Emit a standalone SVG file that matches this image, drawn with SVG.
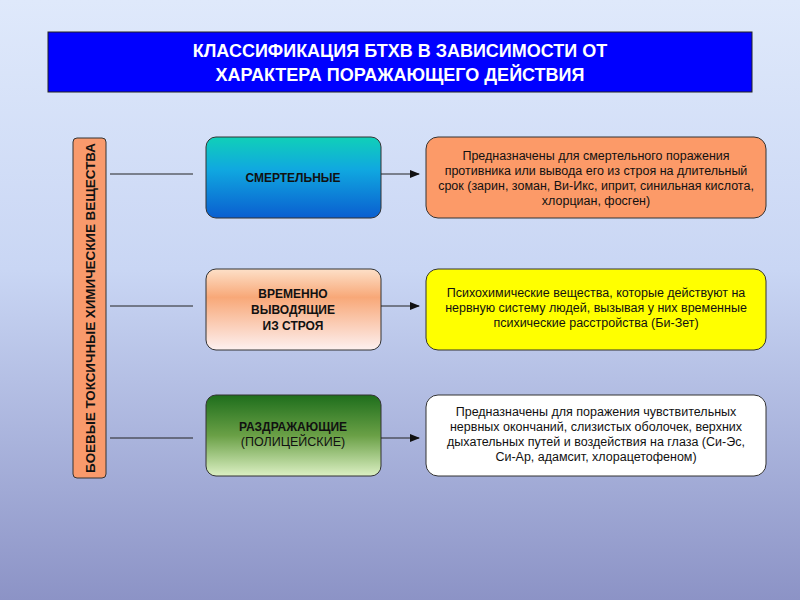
<svg xmlns="http://www.w3.org/2000/svg" width="800" height="600" viewBox="0 0 800 600">
<defs>
<linearGradient id="bg" x1="0" y1="0" x2="0" y2="1"><stop offset="0" stop-color="#dfe9fb"/><stop offset="0.45" stop-color="#c9d6f4"/><stop offset="1" stop-color="#8c93c6"/></linearGradient>
<linearGradient id="g1" x1="0" y1="0" x2="0" y2="1"><stop offset="0" stop-color="#10d0b8"/><stop offset="0.4" stop-color="#10a8e0"/><stop offset="1" stop-color="#0a5ed0"/></linearGradient>
<linearGradient id="g2" x1="0" y1="0" x2="0" y2="1"><stop offset="0" stop-color="#fde0c8"/><stop offset="0.35" stop-color="#f8a878"/><stop offset="1" stop-color="#fdf0f0"/></linearGradient>
<linearGradient id="g3" x1="0" y1="0" x2="0" y2="1"><stop offset="0" stop-color="#1e6e1c"/><stop offset="0.5" stop-color="#6aa046"/><stop offset="1" stop-color="#dcf0c4"/></linearGradient>
<marker id="ar" markerWidth="10" markerHeight="8" refX="9" refY="4" orient="auto" markerUnits="userSpaceOnUse"><path d="M0,0 L10,4 L0,8 Z" fill="#111"/></marker>
<style>
.bx{stroke:#333;stroke-width:1}
text{font-family:"Liberation Sans",Arial,sans-serif;fill:#111}
.b{font-weight:bold;font-size:12px}
.t{font-size:12.5px}
.ln{stroke:#222;stroke-width:1;fill:none}
</style>
</defs>
<rect width="800" height="600" fill="url(#bg)"/>
<g id="title"><rect x="48" y="32" width="704" height="60" fill="#0000ff" stroke="#222"/>
<text x="400" y="57" text-anchor="middle" style="fill:#fff;font-weight:bold;font-size:18px">КЛАССИФИКАЦИЯ БТХВ В ЗАВИСИМОСТИ ОТ</text>
<text x="400" y="81" text-anchor="middle" style="fill:#fff;font-weight:bold;font-size:18px">ХАРАКТЕРА ПОРАЖАЮЩЕГО ДЕЙСТВИЯ</text></g>
<g id="root"><rect class="bx" x="73" y="138" width="33" height="340" rx="4" fill="#f99a6c"/>
<text class="b" transform="translate(95,308) rotate(-90)" text-anchor="middle" textLength="330" lengthAdjust="spacingAndGlyphs" style="font-size:13px">БОЕВЫЕ ТОКСИЧНЫЕ ХИМИЧЕСКИЕ ВЕЩЕСТВА</text></g>
<g id="n1"><rect class="bx" x="206" y="137" width="175" height="81" rx="10" fill="url(#g1)"/><text class="b" x="293" y="182" text-anchor="middle">СМЕРТЕЛЬНЫЕ</text></g>
<g id="n2"><rect class="bx" x="206" y="269" width="175" height="81" rx="10" fill="url(#g2)"/><text class="b" x="293" y="298" text-anchor="middle">ВРЕМЕННО</text><text class="b" x="293" y="314" text-anchor="middle">ВЫВОДЯЩИЕ</text><text class="b" x="293" y="330" text-anchor="middle">ИЗ СТРОЯ</text></g>
<g id="n3"><rect class="bx" x="206" y="395" width="175" height="81" rx="10" fill="url(#g3)"/><text class="b" x="293" y="431" text-anchor="middle">РАЗДРАЖАЮЩИЕ</text><text class="t" x="293" y="446" text-anchor="middle">(ПОЛИЦЕЙСКИЕ)</text></g>
<g id="d1"><rect class="bx" x="426" y="137" width="340" height="81" rx="12" fill="#fc9a68"/>
<text class="t" x="596" y="160" text-anchor="middle">Предназначены для смертельного поражения</text>
<text class="t" x="596" y="175" text-anchor="middle">противника или вывода его из строя на длительный</text>
<text class="t" x="596" y="190" text-anchor="middle">срок (зарин, зоман, Ви-Икс, иприт, синильная кислота,</text>
<text class="t" x="596" y="205" text-anchor="middle">хлорциан, фосген)</text></g>
<g id="d2"><rect class="bx" x="426" y="269" width="340" height="81" rx="12" fill="#ffff00"/>
<text class="t" x="596" y="297" text-anchor="middle">Психохимические вещества, которые действуют на</text>
<text class="t" x="596" y="312" text-anchor="middle">нервную систему людей, вызывая у них временные</text>
<text class="t" x="596" y="327" text-anchor="middle">психические расстройства (Би-Зет)</text></g>
<g id="d3"><rect class="bx" x="426" y="395" width="340" height="81" rx="12" fill="#ffffff"/>
<text class="t" x="596" y="416" text-anchor="middle">Предназначены для поражения чувствительных</text>
<text class="t" x="596" y="431" text-anchor="middle">нервных окончаний, слизистых оболочек, верхних</text>
<text class="t" x="596" y="446" text-anchor="middle">дыхательных путей и воздействия на глаза (Си-Эс,</text>
<text class="t" x="596" y="461" text-anchor="middle">Си-Ар, адамсит, хлорацетофеном)</text></g>
<g id="connectors">
<line class="ln" x1="110" y1="174" x2="193" y2="174"/>
<line class="ln" x1="110" y1="306" x2="193" y2="306"/>
<line class="ln" x1="110" y1="438" x2="193" y2="438"/>
<line class="ln" x1="381" y1="174" x2="419" y2="174" marker-end="url(#ar)"/>
<line class="ln" x1="381" y1="306" x2="419" y2="306" marker-end="url(#ar)"/>
<line class="ln" x1="381" y1="438" x2="419" y2="438" marker-end="url(#ar)"/>
</g>
</svg>
